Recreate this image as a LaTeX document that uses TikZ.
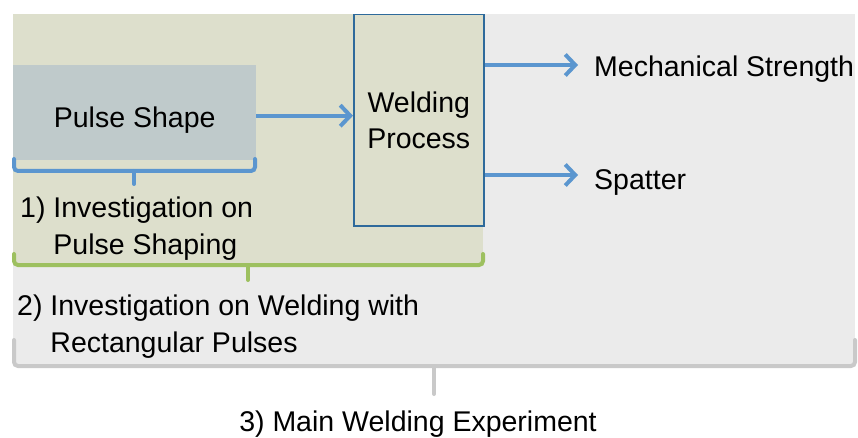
\documentclass[tikz,border=0pt]{standalone}
\usepackage{fontspec}
\setmainfont{Liberation Sans}
\usetikzlibrary{arrows.meta}
\definecolor{bggray}{HTML}{EBEBEB}
\definecolor{olivefill}{HTML}{DDDFCC}
\definecolor{pulsegray}{HTML}{BFCACB}
\definecolor{arrowblue}{HTML}{5B96CF}
\definecolor{boxblue}{HTML}{2E6A9B}
\definecolor{bracegreen}{HTML}{9DC05F}
\definecolor{bracegray}{HTML}{C9C9C9}

\begin{document}
\begin{tikzpicture}[%
      x=1pt, y=-1pt,
      every node/.style={font=\fontsize{28.5}{36.5}\selectfont, text=black, inner sep=0pt},
      flow/.style={color=arrowblue, line width=4pt, -{Straight Barb[length=10pt,width=21pt]}},
      brace/.style={line width=4pt, rounded corners=4pt, line cap=round},
      ]
      \useasboundingbox (0,0) rectangle (858,438);
      \fill [color=bggray] (13,14) rectangle (855,366);
      \fill [color=olivefill] (13,14) rectangle (483,264);

      \node [fill=pulsegray, anchor=north west, minimum width=243pt, minimum height=95pt,
             text height=30pt, text depth=0pt] (pulse) at (13,65) {Pulse Shape};
      \node [draw=boxblue, line width=1.5pt, fill=olivefill, anchor=north west,
             minimum width=130pt, minimum height=211pt, align=center] (weld) at (353,14) {Welding\\Process};

      \coordinate (out1) at (578,65);
      \coordinate (out2) at (578,175);
      \draw [flow] ([yshift=-3pt]pulse.east) -- ([yshift=-3pt]pulse.east -| weld.west);
      \draw [flow] (weld.east |- out1) -- (out1);
      \draw [flow] (weld.east |- out2) -- (out2);

      \node [anchor=base west] (strength) at (594,77) {Mechanical Strength};
      \node [anchor=base west] (spatter) at (594,190) {Spatter};

      \draw [brace, color=arrowblue] (14,159) |- (255,171) -- (255,159);
      \draw [brace, color=arrowblue] (134,171) -- (134,184);
      \node [anchor=north west, align=left] (inv1) at (20,197) {1) Investigation on\\\phantom{1) }Pulse Shaping};

      \draw [brace, color=bracegreen] (14,254) |- (483,265) -- (483,254);
      \draw [brace, color=bracegreen] (248,265) -- (248,280);
      \node [anchor=north west, align=left] (inv2) at (17,295) {2) Investigation on Welding with\\\phantom{2) }Rectangular Pulses};

      \draw [brace, color=bracegray] (14,340) |- (855,366) -- (855,340);
      \draw [brace, color=bracegray] (434,366) -- (434,394);
      \node [anchor=base] (main) at (418,431) {3) Main Welding Experiment};
      \end{tikzpicture}
\end{document}
